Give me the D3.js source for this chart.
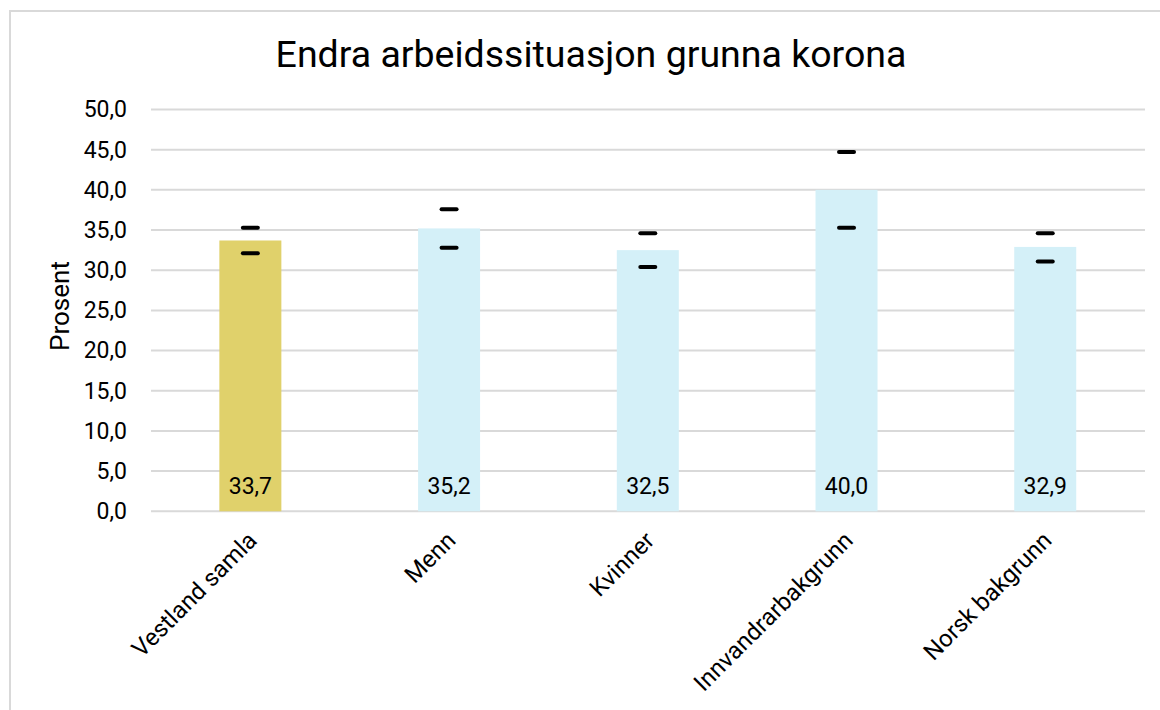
<!DOCTYPE html>
<html>
<head>
<meta charset="utf-8">
<script src="https://cdn.jsdelivr.net/npm/d3@7"></script>
<style>
  body { margin: 0; background: #fff; }
  text { font-family: Roboto, "Noto Sans", sans-serif; fill: #000; }
</style>
</head>
<body>
<div class="chart"></div>
<script>
const categories = ['Vestland samla', 'Menn', 'Kvinner', 'Innvandrarbakgrunn', 'Norsk bakgrunn'];
const values = [33.7, 35.2, 32.5, 40.0, 32.9];
const lower = [32.1, 32.8, 30.4, 35.3, 31.1];
const upper = [35.3, 37.6, 34.6, 44.7, 34.6];
const yTicks = [0, 5, 10, 15, 20, 25, 30, 35, 40, 45, 50];

const width = 1160;
const height = 710;
const fmt = (v) => v.toFixed(1).replace('.', ',');

const svg = d3
  .select('.chart')
  .append('svg')
  .attr('width', width)
  .attr('height', height);

// chart frame (runs off the right and bottom of the picture)
svg.append('rect')
  .attr('x', 10)
  .attr('y', 11)
  .attr('width', 1200)
  .attr('height', 760)
  .attr('fill', '#fff')
  .attr('stroke', '#d9d9d9')
  .attr('stroke-width', 2);

const x = d3.scaleBand()
  .domain(categories)
  .range([151, 1144.6])
  .paddingInner(0.688)
  .paddingOuter(0.344);

const y = d3.scaleLinear().domain([0, 50]).range([511.3, 109.5]);

// gridlines
svg.append('g')
  .selectAll('line')
  .data(yTicks)
  .enter()
  .append('line')
  .attr('x1', 151)
  .attr('x2', 1145)
  .attr('y1', (d) => y(d))
  .attr('y2', (d) => y(d))
  .attr('stroke', '#d9d9d9')
  .attr('stroke-width', 2);

// y axis labels
const yAxis = svg.append('g')
  .attr('transform', 'translate(151,0)')
  .call(d3.axisLeft(y).tickValues(yTicks).tickFormat(fmt).tickSize(0).tickPadding(24));
yAxis.select('.domain').remove();
yAxis.selectAll('text')
  .style('font-family', 'Roboto, sans-serif')
  .style('font-size', '23px')
  .attr('fill', '#000');

// bars
svg.append('g')
  .selectAll('rect')
  .data(categories)
  .enter()
  .append('rect')
  .attr('x', (d) => x(d))
  .attr('y', (d, i) => y(values[i]))
  .attr('width', x.bandwidth())
  .attr('height', (d, i) => y(0) - y(values[i]))
  .attr('fill', (d, i) => (i === 0 ? '#e0d16b' : '#d4f0f8'));

// value labels
svg.append('g')
  .selectAll('text')
  .data(categories)
  .enter()
  .append('text')
  .attr('x', (d) => x(d) + x.bandwidth() / 2)
  .attr('y', 494)
  .attr('text-anchor', 'middle')
  .style('font-size', '23px')
  .text((d, i) => fmt(values[i]));

// error caps (only the short ends are drawn)
const caps = [];
categories.forEach((c, i) => {
  caps.push({ c, v: lower[i] });
  caps.push({ c, v: upper[i] });
});
svg.append('g')
  .selectAll('line')
  .data(caps)
  .enter()
  .append('line')
  .attr('x1', (d) => x(d.c) + x.bandwidth() / 2 - 7.5)
  .attr('x2', (d) => x(d.c) + x.bandwidth() / 2 + 7.5)
  .attr('y1', (d) => y(d.v))
  .attr('y2', (d) => y(d.v))
  .attr('stroke', '#000')
  .attr('stroke-width', 4)
  .attr('stroke-linecap', 'round');

// x axis labels, rotated
svg.append('g')
  .selectAll('text')
  .data(categories)
  .enter()
  .append('text')
  .attr('transform', (d) => `translate(${x(d) + x.bandwidth() / 2 + 2},${536}) rotate(-45)`)
  .attr('text-anchor', 'end')
  .attr('dy', '0.35em')
  .style('font-size', '24px')
  .text((d) => d);

// y axis title
svg.append('text')
  .attr('transform', 'translate(69,306) rotate(-90)')
  .attr('text-anchor', 'middle')
  .style('font-size', '26px')
  .text('Prosent');

// chart title
svg.append('text')
  .attr('x', 591)
  .attr('y', 67)
  .attr('text-anchor', 'middle')
  .style('font-size', '37.5px')
  .text('Endra arbeidssituasjon grunna korona');
</script>
</body>
</html>
